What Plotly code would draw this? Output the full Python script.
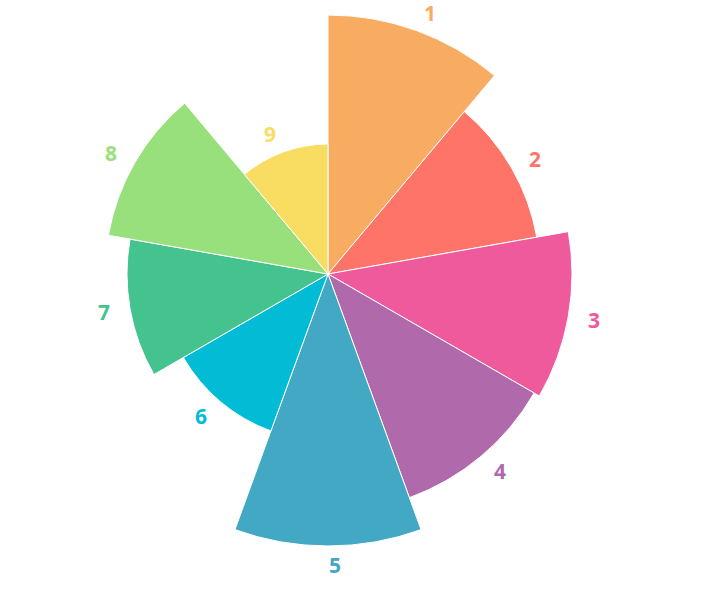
import math
import plotly.graph_objects as go

categories = ["1", "2", "3", "4", "5", "6", "7", "8", "9"]
values = [259, 212, 244, 238, 272, 167, 201, 223, 130]
colors = ["#F7AC61", "#FF7469", "#EF5A9C", "#B06AAB", "#42A8C3",
          "#02BCD6", "#45C38E", "#98E07B", "#F9DC62"]

n = len(categories)
step = 360 / n
thetas = [step * i + step / 2 for i in range(n)]
label_offset = 19

W, H = 720, 590
cx, cy, R = 328, 274, 274

fig = go.Figure()
fig.add_trace(go.Barpolar(
    r=values, theta=thetas, width=[step] * n,
    marker=dict(color=colors, line=dict(color="white", width=1)),
    hoverinfo="skip", showlegend=False,
))

# labels placed just outside each sector, converted from polar scale to paper coords
annotations = []
for cat, v, th, col in zip(categories, values, thetas, colors):
    d = v + label_offset  # radial units == pixels (range [0, R] over R px)
    a = math.radians(th)
    px = cx + d * math.sin(a)
    py = cy - d * math.cos(a)
    annotations.append(dict(
        x=px / W, y=(H - py) / H, xref="paper", yref="paper",
        text=cat, showarrow=False,
        xanchor="left" if th <= 180 else "right", yanchor="middle",
        borderpad=0,
        font=dict(family="Open Sans", size=21, color=col, weight="bold"),
    ))

fig.update_layout(
    width=W, height=H,
    margin=dict(l=0, r=0, t=0, b=0),
    paper_bgcolor="white", plot_bgcolor="white",
    annotations=annotations,
    polar=dict(
        domain=dict(x=[(cx - R) / W, (cx + R) / W], y=[(H - cy - R) / H, (H - cy + R) / H]),
        bgcolor="rgba(0,0,0,0)",
        bargap=0,
        radialaxis=dict(range=[0, R], visible=False, showgrid=False),
        angularaxis=dict(visible=False, showgrid=False, rotation=90, direction="clockwise"),
    ),
)

fig.write_html("out.html")
